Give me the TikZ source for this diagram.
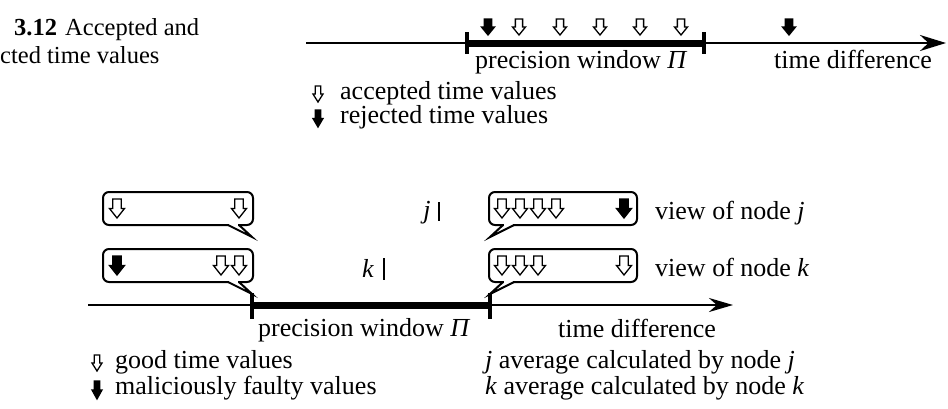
\documentclass[tikz,border=0pt]{standalone}
\usepackage{fontspec}
\setmainfont{Liberation Serif}
\usetikzlibrary{arrows.meta}
\newcommand\myarrow[5]{%
  \draw[#5] ({#1-0.28*#3},#2) -- ({#1+0.28*#3},#2) -- ({#1+0.28*#3},{#2+0.5*#4})
    -- ({#1+0.5*#3},{#2+0.5*#4}) -- (#1,{#2+#4}) -- ({#1-0.5*#3},{#2+0.5*#4})
    -- ({#1-0.28*#3},{#2+0.5*#4}) -- cycle;}
\begin{document}
\begin{tikzpicture}[x=1pt,y=-1pt,
  txt/.style={inner sep=0pt, anchor=base west, font=\fontsize{26}{28}\selectfont},
  captxt/.style={inner sep=0pt, anchor=base west, font=\fontsize{24.5}{26}\selectfont},
  axisline/.style={line width=2.5pt},
  winbar/.style={line width=7pt},
  tickmark/.style={line width=4pt},
  bubble/.style={line width=2pt, rounded corners=6pt},
  tailline/.style={line width=2pt, line join=miter},
  avgbar/.style={line width=2.2pt},
  openar/.style={draw=black, fill=white, line width=1.3pt, line join=miter},
  fullar/.style={draw=black, fill=black, line width=1.3pt, line join=miter},
]
\useasboundingbox (0,0) rectangle (948,408);

% ---------- caption ----------
\node[captxt, font=\fontsize{24.5}{26}\selectfont\bfseries] (c1) at (14,35) {3.12};
\node[captxt] (c2) at (65,35) {Accepted and};
\node[captxt] (c3) at (0,63) {cted time values};

% ---------- top axis ----------
\coordinate (tA) at (306,43);
\coordinate (tB) at (946,43);
\coordinate (tL) at (467,43);
\coordinate (tR) at (704,43);
\draw[axisline, -{Stealth[length=26pt,width=16pt]}] (tA) -- (tB);
\draw[winbar] (tL) -- (tR);
\draw[tickmark] (467,32) -- (467,54);
\draw[tickmark] (704,32) -- (704,54);

\myarrow{488}{19}{13}{16}{fullar}
\myarrow{519}{19}{13}{16}{openar}
\myarrow{560}{19}{13}{16}{openar}
\myarrow{600}{19}{13}{16}{openar}
\myarrow{640}{19}{13}{16}{openar}
\myarrow{681}{19}{13}{16}{openar}
\myarrow{789}{19}{13}{16}{fullar}

\node[txt] (tpw) at (475,68) {precision window \textit{Π}};
\node[txt] (ttd) at (774,68) {time difference};

\myarrow{318}{86}{10}{16}{openar}
\myarrow{318}{110}{10}{17}{fullar}
\node[txt] (lacc) at (340,99) {accepted time values};
\node[txt] (lrej) at (340,123) {rejected time values};

% ---------- bottom axis ----------
\coordinate (bA) at (88,305);
\coordinate (bB) at (733,305);
\coordinate (bL) at (252,305);
\coordinate (bR) at (490,305);
\draw[axisline, -{Stealth[length=24pt,width=14pt]}] (bA) -- (bB);
\draw[winbar] (bL) -- (bR);
\draw[tickmark] (252,293) -- (252,319);
\draw[tickmark] (490,293) -- (490,319);

% left bubbles
\draw[bubble] (103,192) rectangle (253,225);
\fill[white] (229,223.5) rectangle (238,226.5);
\coordinate (ljt) at (252,237);
\draw[tailline] (228,225) -- (ljt) -- (239,225);

\draw[bubble] (103,249) rectangle (253,282);
\fill[white] (229,280.5) rectangle (238,283.5);
\coordinate (lkt) at (252,294);
\draw[tailline] (228,282) -- (lkt) -- (239,282);

% right bubbles
\draw[bubble] (489,192) rectangle (637,225);
\fill[white] (504,223.5) rectangle (513,226.5);
\coordinate (rjt) at (490,237);
\draw[tailline] (503,225) -- (rjt) -- (514,225);

\draw[bubble] (489,249) rectangle (637,282);
\fill[white] (504,280.5) rectangle (513,283.5);
\coordinate (rkt) at (490,294);
\draw[tailline] (503,282) -- (rkt) -- (514,282);

% arrows in bubbles
\myarrow{117}{199}{15}{19}{openar}
\myarrow{239}{199}{15}{19}{openar}
\myarrow{117}{256}{15}{19}{fullar}
\myarrow{221}{256}{15}{19}{openar}
\myarrow{239}{256}{15}{19}{openar}

\myarrow{502}{199}{15}{19}{openar}
\myarrow{520}{199}{15}{19}{openar}
\myarrow{538}{199}{15}{19}{openar}
\myarrow{556}{199}{15}{19}{openar}
\myarrow{624}{199}{15}{19}{fullar}
\myarrow{502}{256}{15}{19}{openar}
\myarrow{520}{256}{15}{19}{openar}
\myarrow{538}{256}{15}{19}{openar}
\myarrow{624}{256}{15}{19}{openar}

% average markers
\node[txt, anchor=base] (mj) at (427,218) {\textit{j}};
\draw[avgbar] (439,202) -- (439,221);
\node[txt, anchor=base] (mk) at (368,277) {\textit{k}};
\draw[avgbar] (384,258) -- (384,280);

\node[txt] (vj) at (655,219) {view of node \textit{j}};
\node[txt] (vk) at (655,276) {view of node \textit{k}};

\node[txt] (bpw) at (258,336) {precision window \textit{Π}};
\node[txt] (btd) at (558,337) {time difference};

% bottom legend
\myarrow{97}{355}{10}{16}{openar}
\myarrow{97}{381}{10}{18}{fullar}
\node[txt] (lg) at (115,368) {good time values};
\node[txt] (lm) at (115,394) {maliciously faulty values};
\node[txt] (lj) at (485,368) {\textit{j} average calculated by node \textit{j}};
\node[txt] (lk) at (485,394) {\textit{k} average calculated by node \textit{k}};
\end{tikzpicture}
\end{document}
